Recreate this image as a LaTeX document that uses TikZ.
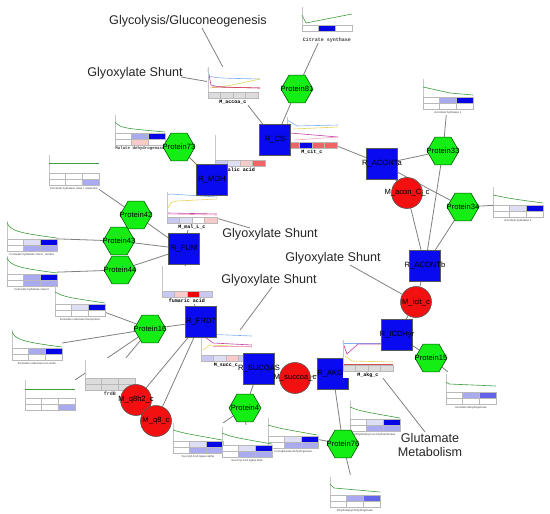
\documentclass[tikz,border=0pt]{standalone}
\usepackage{fontspec}
\setmainfont{Liberation Sans}
\newfontfamily\monof{Liberation Mono}
\usetikzlibrary{shapes.geometric}
\pgfdeclarelayer{bg}
\pgfsetlayers{bg,main}
\definecolor{nblue}{HTML}{0A0AF0}
\definecolor{nred}{HTML}{F21010}
\definecolor{ngreen}{HTML}{14EE14}
\definecolor{edgec}{HTML}{808080}
\definecolor{cblue}{HTML}{0505E6}
\definecolor{cmid}{HTML}{6464EA}
\definecolor{clight}{HTML}{AAAAF0}
\definecolor{cpale}{HTML}{DEDEF5}
\definecolor{clav}{HTML}{C8C8F2}
\definecolor{cpink}{HTML}{F8CACA}
\definecolor{cred}{HTML}{F06464}
\definecolor{cdred}{HTML}{EE0505}
\definecolor{cgray}{HTML}{DCDCDC}
\definecolor{lgreen}{HTML}{3C9E3C}
\definecolor{lb}{HTML}{7FB2F0}
\definecolor{ly}{HTML}{E6D45A}
\definecolor{lm}{HTML}{C43FA8}
\definecolor{lp}{HTML}{F2A3C4}
\definecolor{lr}{HTML}{D05050}
\newcommand\nlf{\fontsize{7.6}{8}\selectfont}
\newcommand\bigf{\fontsize{12.6}{14}\selectfont}
\newcommand\monol{\monof\bfseries\fontsize{5}{5}\selectfont}
\newcommand\monos{\monof\bfseries\fontsize{4.1}{5}\selectfont}
\newcommand\tinyl{\fontsize{2.8}{3}\selectfont}
\tikzset{
  rxn/.style={rectangle, draw=black!65, line width=0.6pt, fill=nblue, minimum size=31pt, inner sep=0pt, font=\nlf},
  met/.style={circle, draw=black!65, line width=0.6pt, fill=nred, minimum size=31pt, inner sep=0pt, font=\nlf},
  prot/.style={regular polygon, regular polygon sides=6, draw=green!35!black, line width=0.6pt, fill=ngreen, minimum size=32pt, inner sep=0pt, font=\nlf},
  edge/.style={draw=edgec, line width=0.8pt},
  big/.style={font=\bigf, text=black!85, inner sep=1pt},
  axc/.style={draw=gray!45, line width=0.5pt},
  gc/.style={draw=lgreen, line width=0.6pt},
  cellc/.style={draw=gray!55, line width=0.35pt},
  chartbox/.style={rectangle, minimum width=50pt, minimum height=38pt, inner sep=0pt},
  chartlbl/.style={inner sep=0pt, text=black!75},
  cv/.style={line width=0.6pt}
}
% protein chart: name, x, y, row1, row2, label, green curve
\newcommand\pchart[7]{%
  \node[chartbox] (#1) at (#2+25,#3+19) {};
  \begin{scope}[shift={(#2,#3)}]
    \draw[axc] (0,2) -- (0,20);
    \draw[gc] #7;
    \foreach \colr [count=\k from 0] in {#4}{\filldraw[cellc,fill=\colr] (\k*16.667,20) rectangle ++(16.667,6);}
    \if\relax\detokenize{#5}\relax\else
      \foreach \colr [count=\k from 0] in {#5}{\filldraw[cellc,fill=\colr] (\k*16.667,26) rectangle ++(16.667,6);}
    \fi
    \node[chartlbl] (#1-l) at (25,35.5) {#6};
  \end{scope}}
% metabolite chart: name, x, y, cells, label, curves
\newcommand\mchart[6]{%
  \node[chartbox, minimum width=52pt] (#1) at (#2+25,#3+19) {};
  \begin{scope}[shift={(#2,#3)}]
    #6
    \draw[axc] (0,0) -- (0,25);
    \foreach \colr [count=\k from 0] in {#4}{\filldraw[cellc,fill=\colr] (\k*12.5,25) rectangle ++(12.5,6);}
    \node[chartlbl, text=black] (#1-l) at (25,35) {\monol #5};
  \end{scope}}
\begin{document}
\begin{tikzpicture}[x=1pt,y=-1pt]
\useasboundingbox (0,0) rectangle (550,514);

% ---------- metabolite charts ----------
\mchart{accoa}{208}{67}{cgray,cgray,cgray,cgray}{M\_accoa\_c}{
  \draw[cv,lb] (0,1) -- (1,9) .. controls (8,11) .. (52,12);
  \draw[cv,ly] (2,21) .. controls (20,19) .. (52,12);
  \draw[cv,lm] (0,3) -- (3,18) .. controls (10,20) .. (52,21);
  \draw[cv,lr] (4,20) -- (52,21);}
\mchart{cit}{287}{117}{cred,cblue,cred,cred}{M\_cit\_c}{
  \draw[cv,lb] (0,3) -- (10,9) -- (51,8);
  \draw[cv,ly] (6,12) -- (51,10);
  \draw[cv,lm] (3,16) -- (51,20);
  \draw[cv,lp] (8,23) -- (51,20);}
\mchart{malic}{215}{135}{clav,cpale,cpink,cred}{malic acid}{}
\mchart{malL}{167}{192}{clav,cpale,white,cpink}{M\_mal\_L\_c}{
  \draw[cv,lb] (0,3) -- (3,2) -- (50,5);
  \draw[cv,ly] (1,16) .. controls (4,10) .. (10,9) -- (50,7);
  \draw[cv,lm] (1,21) -- (50,22);
  \draw[cv,lp] (0,22) -- (50,23);}
\mchart{fum}{162}{266}{clav,cpink,cdred,clav}{fumaric acid}{}
\mchart{succ}{201}{330}{clav,cpale,cpink,clav}{M\_succ\_c}{
  \draw[cv,lb] (2,4) -- (51,6);
  \draw[cv,lm] (4,7) -- (12,13) -- (51,15);
  \draw[cv,ly] (2,20) -- (9,15) -- (51,17);
  \draw[cv,lp] (12,16) -- (51,16);}

% ---------- protein charts ----------
\def\dcurve{(0,4) .. controls (4,12) and (12,14) .. (50,19)}
\pchart{csch}{302}{5}{white,cblue,white}{}{\monol Citrate synthase}{(0,10) -- (4,18) -- (50,9)}
\pchart{mdhch}{115}{113}{white,clight,cblue}{white,cpink,white}{\monos Malate dehydrogenase}{(0,9) .. controls (6,15) .. (50,19)}
\pchart{p42ch}{49}{153}{white,white,white}{white,white,clight}{\tinyl Fumarate hydratase class I, anaerobic}{(0,10) -- (50,10)}
\pchart{p43ch}{7}{219}{white,cpale,cblue}{white,clight,clight}{\tinyl Fumarate hydratase class I, aerobic}{\dcurve}
\pchart{p44ch}{7}{254}{white,clight,cblue}{white,clight,clight}{\tinyl Fumarate hydratase class II}{\dcurve}
\pchart{p16ch1}{55}{284}{white,cpale,cblue}{white,white,white}{\tinyl Fumarate reductase flavoprotein}{(0,8) .. controls (10,13) .. (50,19)}
\pchart{p16ch2}{12}{328}{white,clight,cblue}{white,white,white}{\tinyl Fumarate reductase iron-sulfur}{\dcurve}
\pchart{ch12}{25}{378}{white,white,white}{white,white,clight}{}{(0,11) -- (50,11)}
\fill[white] (85,358) rectangle (135,396);
\pchart{frdb}{85}{358}{cgray,cgray,cgray}{cgray,cgray,cgray}{\monol frdB}{(0,0)}
\pchart{p33ch}{423}{77}{white,clight,cblue}{white,white,white}{\tinyl Aconitate hydratase 1}{(0,10) -- (27,16) -- (50,18)}
\pchart{p34ch}{493}{185}{white,cpale,cblue}{white,white,white}{\tinyl Aconitate hydratase 2}{(0,10) .. controls (20,14) .. (50,18)}
\pchart{p15ch}{446}{372}{white,clight,cmid}{white,white,white}{\tinyl Isocitrate dehydrogenase}{(0,10) -- (3,12) -- (50,14)}
\pchart{p4cha}{173}{421}{white,cpale,cblue}{white,clight,clight}{\tinyl Succinyl-CoA ligase alpha}{(0,9) .. controls (10,12) .. (49,19)}
\pchart{p76cha}{268}{416}{white,cpale,cblue}{white,clight,clight}{\tinyl 2-oxoglutarate dehydrogenase}{(0,9) .. controls (10,12) .. (49,19)}
\pchart{p4chb}{222}{425}{white,cpale,cblue}{white,clight,clight}{\tinyl Succinyl-CoA ligase beta}{(0,8) .. controls (10,12) .. (50,19)}
\pchart{p76chb}{350}{399}{white,cpale,cblue}{white,clight,clight}{\tinyl Dihydrolipoyl succinyltransferase}{(0,8) .. controls (10,12) .. (50,19)}
\pchart{p76chc}{330}{475}{white,clight,cmid}{white,white,white}{\tinyl Dihydrolipoyl dehydrogenase}{(0,9) -- (4,13) -- (50,17)}

% ---------- reaction nodes ----------
\node[rxn] (rcs) at (275,140) {\makebox[0pt]{R\_CS}};
\node[rxn] (racona) at (382,164) {\makebox[0pt]{R\_ACONTa}};
\node[rxn] (rmdh) at (212,180) {\makebox[0pt]{R\_MDH}};
\node[rxn] (rfum) at (184,249) {\makebox[0pt]{R\_FUM}};
\node[rxn] (rfrd) at (201,322) {\makebox[0pt]{R\_FRD7}};
\node[rxn] (rsucoas) at (259,369) {\makebox[0pt]{R\_SUCOAS}};
\node[rxn] (rakgd) at (333,374) {\makebox[0pt]{R\_AKGD}};
\node[rxn] (raconb) at (425,266) {\makebox[0pt]{R\_ACONTb}};

% ---------- metabolite nodes ----------
\node[met] (macon) at (407,193) {\makebox[0pt]{M\_acon\_C\_c}};
\node[met] (micit) at (416,302) {\makebox[0pt]{M\_icit\_c}};
\node[met] (msuccoa) at (295,378) {\makebox[0pt]{M\_succoa\_c}};
\node[met] (mq8h2) at (136,400) {\makebox[0pt]{M\_q8h2\_c}};
\node[met] (mq8) at (156,421) {\makebox[0pt]{M\_q8\_c}};

% ---------- protein nodes ----------
\node[prot] (p81) at (297,89) {\makebox[0pt]{Protein81}};
\node[prot] (p73) at (179,147) {\makebox[0pt]{Protein73}};
\node[prot] (p33) at (443,151) {\makebox[0pt]{Protein33}};
\node[prot] (p34) at (463,207) {\makebox[0pt]{Protein34}};
\node[prot] (p42) at (136,215) {\makebox[0pt]{Protein42}};
\node[prot] (p43) at (119,241) {\makebox[0pt]{Protein43}};
\node[prot] (p44) at (120,270) {\makebox[0pt]{Protein44}};
\node[prot] (p16) at (150,329) {\makebox[0pt]{Protein16}};
\node[prot] (p4) at (245,408) {\makebox[0pt]{Protein4}};
\node[prot] (p76) at (343,444) {\makebox[0pt]{Protein76}};
\node[prot] (p15) at (431,358) {\makebox[0pt]{Protein15}};

% ---------- akg chart over R_AKGD, under R_ICDHyr ----------
\fill[white] (343,339) rectangle (394,378);
\mchart{akg}{343}{340}{cgray,cgray,cgray,cgray}{M\_akg\_c}{
  \draw[cv,lb] (0,3) -- (40,3);
  \draw[cv,lm] (0,3) -- (4,14) -- (15,4) -- (40,4);
  \draw[cv,ly] (2,16) -- (9,21) -- (50,22);
  \draw[cv,lr] (0,24) -- (50,24);}
\node[rxn] (ricdh) at (397,335) {\makebox[0pt]{R\_ICDHyr}};

% ---------- pathway labels ----------
\node[big] (gly) at (188,21) {Glycolysis/Gluconeogenesis};
\node[big] (sh1) at (135,73) {Glyoxylate Shunt};
\node[big] (sh2) at (270,234) {Glyoxylate Shunt};
\node[big] (sh3) at (333,258) {Glyoxylate Shunt};
\node[big] (sh4) at (269,280) {Glyoxylate Shunt};
\node[big, align=center] (glu) at (430,445) {Glutamate\\Metabolism};
\coordinate (glyA) at (202,28);
\coordinate (sh1A) at (181,77);
\coordinate (sh2A) at (250,228);
\coordinate (sh3A) at (350,265);
\coordinate (sh4A) at (272,287);
\coordinate (gluA) at (425,432);

% ---------- connectors ----------
\begin{pgfonlayer}{bg}
  \fill[white] (0,0) rectangle (550,514);
  \draw[edge] (accoa) -- (rcs);
  \draw[edge] (p81) -- (rcs);
  \draw[edge] (p81) -- (csch);
  \draw[edge] (cit) -- (racona);
  \draw[edge] (racona) -- (p33);
  \draw[edge] (p33) -- (p33ch);
  \draw[edge] (p33) -- (raconb);
  \draw[edge] (racona) -- (p34);
  \draw[edge] (p34) -- (p34ch);
  \draw[edge] (p34) -- (raconb);
  \draw[edge] (racona) -- (macon);
  \draw[edge] (macon) -- (raconb);
  \draw[edge] (raconb) -- (micit);
  \draw[edge] (micit) -- (ricdh);
  \draw[edge] (ricdh) -- (p15);
  \draw[edge] (p15) -- (p15ch);
  \draw[edge] (msuccoa) -- (rakgd);
  \draw[edge] (rakgd) -- (p76);
  \draw[edge] (p76) -- (p76chc);
  \draw[edge] (p76) -- (p76cha);
  \draw[edge] (rsucoas) -- (p4);
  \draw[edge] (p4) -- (p4cha);
  \draw[edge] (p4) -- (p4chb);
  \draw[edge] (rfrd) -- (p16);
  \draw[edge] (p16) -- (p16ch1);
  \draw[edge] (p16) -- (p16ch2);
  \draw[edge] (p16) -- (ch12);
  \draw[edge] (p16) -- (frdb);
  \draw[edge] (rfrd) -- (mq8h2);
  \draw[edge] (rfrd) -- (mq8);
  \draw[edge] (rfrd) -- (fum);
  \draw[edge] (fum) -- (rfum);
  \draw[edge] (rfum) -- (malL);
  \draw[edge] (p42) -- (rfum);
  \draw[edge] (p43) -- (rfum);
  \draw[edge] (p44) -- (rfum);
  \draw[edge] (p42) -- (p42ch);
  \draw[edge] (p43) -- (p43ch);
  \draw[edge] (p44) -- (p44ch);
  \draw[edge] (p73) -- (rmdh);
  \draw[edge] (p73) -- (mdhch);
  \draw[edge] (rmdh) -- (malic);
  \draw[edge] (glyA) -- (accoa);
  \draw[edge] (sh1A) -- (accoa);
  \draw[edge] (malL) -- (sh2A);
  \draw[edge] (sh3A) -- (micit);
  \draw[edge] (sh4A) -- (succ);
  \draw[edge] (akg) -- (gluA);
\end{pgfonlayer}
\end{tikzpicture}
\end{document}
